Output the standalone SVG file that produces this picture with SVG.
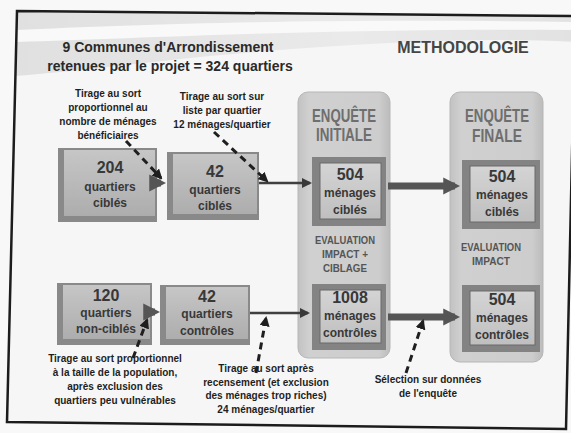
<svg xmlns="http://www.w3.org/2000/svg" width="571" height="433" viewBox="0 0 571 433">
<defs>
<linearGradient id="panelG" x1="0" y1="0" x2="1" y2="0">
<stop offset="0" stop-color="#c2c2c2"/><stop offset="0.12" stop-color="#d0d0d0"/><stop offset="0.88" stop-color="#cdcdcd"/><stop offset="1" stop-color="#bcbcbc"/>
</linearGradient>
<linearGradient id="faceG" x1="0" y1="0" x2="0" y2="1">
<stop offset="0" stop-color="#c6c6c6"/><stop offset="1" stop-color="#adadad"/>
</linearGradient>
<linearGradient id="innerG" x1="0" y1="0" x2="0" y2="1">
<stop offset="0" stop-color="#d4d4d4"/><stop offset="1" stop-color="#bfbfbf"/>
</linearGradient>
<linearGradient id="bandG" x1="0" y1="0" x2="1" y2="0">
<stop offset="0" stop-color="#e0e0e0"/><stop offset="0.6" stop-color="#eaeaea"/><stop offset="1" stop-color="#e2e2e2"/>
</linearGradient>
<marker id="ahThin" viewBox="0 0 10 10" refX="8" refY="5" markerWidth="4" markerHeight="4" orient="auto"><path d="M0,0 L10,5 L0,10 z" fill="#3a3a3a"/></marker>
<marker id="ahThick" viewBox="0 0 10 10" refX="7" refY="5" markerWidth="2.4" markerHeight="2.6" orient="auto"><path d="M0,0 L10,5 L0,10 z" fill="#555"/></marker>
<marker id="ahDash" viewBox="0 0 10 10" refX="8" refY="5" markerWidth="3.4" markerHeight="3.4" orient="auto"><path d="M0,0 L10,5 L0,10 z" fill="#1f1f1f"/></marker>
</defs>
<style>
.t{font-family:"Liberation Sans",Arial,sans-serif;font-weight:bold;text-anchor:middle}
.ann{font-size:10px;fill:#1e1e1e}
.num{font-size:16px;fill:#383838}
.lbl{font-size:12px;fill:#383838}
.ptitle{font-size:18px;fill:#6e6e6e}
.eval{font-size:11px;fill:#555}
.edge{fill:#898989}
.face{fill:url(#faceG)}
.frame{fill:#838383}
.inner{fill:url(#innerG);stroke:#6a6a6a;stroke-width:1}
.panel{fill:url(#panelG);stroke:#b6b6b6;stroke-width:1}
.dash{stroke:#1f1f1f;stroke-width:3;stroke-dasharray:7 5;fill:none;marker-end:url(#ahDash)}
.thin{stroke:#3f3f3f;stroke-width:2.5;fill:none;marker-end:url(#ahThin)}
.thick{stroke:#555;stroke-width:7;fill:none;marker-end:url(#ahThick)}
</style>

<g id="background">
<rect x="0" y="0" width="571" height="433" fill="#f8f8f8"/>
<polygon points="17,11 575,16 566,429 7,422" fill="#f6f6f6"/>
<path d="M17,11 L575,16 L575,42 C470,36 340,44 210,56 C130,64 70,72 15,76 Z" fill="url(#bandG)"/>
<path d="M16,30 C140,24 330,18 575,22 L575,30 C340,28 150,38 16,42 Z" fill="#f9f9f9"/>
<polygon points="17,11 575,16 566,429 7,422" fill="none" stroke="#1c1c1c" stroke-width="2.5"/>
</g>

<g id="title">
<text class="t" x="168" y="52" font-size="14px" fill="#2a2a2a">9 Communes d'Arrondissement</text>
<text class="t" x="170" y="71" font-size="14px" fill="#2a2a2a">retenues par le projet = 324 quartiers</text>
</g>
<g id="methodologie">
<text class="t" x="463" y="53" font-size="16px" fill="#454545">METHODOLOGIE</text>
</g>

<g id="note-tirage-proportionnel">
<text class="t ann" x="108" y="97">Tirage au sort</text>
<text class="t ann" x="108" y="111">proportionnel au</text>
<text class="t ann" x="108" y="125">nombre de ménages</text>
<text class="t ann" x="108" y="139">bénéficiaires</text>
</g>
<g id="note-tirage-liste">
<text class="t ann" x="222" y="100">Tirage au sort sur</text>
<text class="t ann" x="222" y="114">liste par quartier</text>
<text class="t ann" x="222" y="128">12 ménages/quartier</text>
</g>

<g id="panel-initiale">
<rect class="panel" x="298" y="92" width="92" height="266" rx="10"/>
<text class="t ptitle" x="344" y="122" textLength="64" lengthAdjust="spacingAndGlyphs">ENQUÊTE</text>
<text class="t ptitle" x="344" y="141" textLength="56" lengthAdjust="spacingAndGlyphs">INITIALE</text>
<text class="t eval" x="345" y="244" textLength="60" lengthAdjust="spacingAndGlyphs">EVALUATION</text>
<text class="t eval" x="345" y="258" textLength="46" lengthAdjust="spacingAndGlyphs">IMPACT +</text>
<text class="t eval" x="345" y="272" textLength="44" lengthAdjust="spacingAndGlyphs">CIBLAGE</text>
</g>
<g id="panel-finale">
<rect class="panel" x="450" y="92" width="93" height="270" rx="10"/>
<text class="t ptitle" x="497" y="122" textLength="64" lengthAdjust="spacingAndGlyphs">ENQUÊTE</text>
<text class="t ptitle" x="497" y="142" textLength="50" lengthAdjust="spacingAndGlyphs">FINALE</text>
<text class="t eval" x="491" y="251" textLength="60" lengthAdjust="spacingAndGlyphs">EVALUATION</text>
<text class="t eval" x="491" y="265" textLength="38" lengthAdjust="spacingAndGlyphs">IMPACT</text>
</g>

<g id="box-204-cibles">
<rect class="edge" x="58" y="148" width="99" height="74"/>
<rect class="face" x="64" y="150" width="91" height="66"/>
<text class="t num" x="110" y="173">204</text>
<text class="t lbl" x="110" y="191">quartiers</text>
<text class="t lbl" x="110" y="207">ciblés</text>
</g>
<g id="box-42-cibles">
<rect class="edge" x="167" y="152" width="92" height="68"/>
<rect class="face" x="173" y="154" width="84" height="60"/>
<text class="t num" x="215" y="177">42</text>
<text class="t lbl" x="215" y="194">quartiers</text>
<text class="t lbl" x="215" y="210">ciblés</text>
</g>
<g id="box-120-non-cibles">
<rect class="edge" x="57" y="283" width="95" height="62"/>
<rect class="face" x="63" y="285" width="87" height="54"/>
<text class="t num" x="106" y="301">120</text>
<text class="t lbl" x="106" y="317">quartiers</text>
<text class="t lbl" x="106" y="333">non-ciblés</text>
</g>
<g id="box-42-controles">
<rect class="edge" x="160" y="285" width="90" height="60"/>
<rect class="face" x="166" y="287" width="82" height="52"/>
<text class="t num" x="207" y="302">42</text>
<text class="t lbl" x="207" y="318">quartiers</text>
<text class="t lbl" x="207" y="335">contrôles</text>
</g>

<g id="box-504-cibles-initiale">
<rect class="frame" x="312" y="157" width="74" height="69"/>
<rect class="inner" x="320" y="163" width="61" height="56"/>
<text class="t num" x="350" y="180">504</text>
<text class="t lbl" x="350" y="197">ménages</text>
<text class="t lbl" x="350" y="214">ciblés</text>
</g>
<g id="box-1008-controles">
<rect class="frame" x="312" y="284" width="74" height="66"/>
<rect class="inner" x="320" y="290" width="61" height="53"/>
<text class="t num" x="350" y="303">1008</text>
<text class="t lbl" x="350" y="320">ménages</text>
<text class="t lbl" x="350" y="337">contrôles</text>
</g>
<g id="box-504-cibles-finale">
<rect class="frame" x="462" y="160" width="78" height="69"/>
<rect class="inner" x="470" y="166" width="65" height="56"/>
<text class="t num" x="502" y="182">504</text>
<text class="t lbl" x="502" y="199">ménages</text>
<text class="t lbl" x="502" y="216">ciblés</text>
</g>
<g id="box-504-controles-finale">
<rect class="frame" x="462" y="285" width="78" height="67"/>
<rect class="inner" x="470" y="291" width="65" height="54"/>
<text class="t num" x="502" y="305">504</text>
<text class="t lbl" x="502" y="322">ménages</text>
<text class="t lbl" x="502" y="339">contrôles</text>
</g>

<g id="note-tirage-population">
<text class="t ann" x="115" y="362">Tirage au sort proportionnel</text>
<text class="t ann" x="115" y="376">à la taille de la population,</text>
<text class="t ann" x="115" y="390">après exclusion des</text>
<text class="t ann" x="115" y="404">quartiers peu vulnérables</text>
</g>
<g id="note-tirage-recensement">
<text class="t ann" x="266" y="372">Tirage au sort après</text>
<text class="t ann" x="266" y="386">recensement (et exclusion</text>
<text class="t ann" x="266" y="399">des ménages trop riches)</text>
<text class="t ann" x="266" y="413">24 ménages/quartier</text>
</g>
<g id="note-selection">
<text class="t ann" x="428" y="383">Sélection sur données</text>
<text class="t ann" x="428" y="397">de l'enquête</text>
</g>

<g id="connectors">
<line class="thick" x1="152" y1="183" x2="161" y2="183"/>
<line class="thick" x1="150" y1="312" x2="155" y2="312"/>
<line class="thin" x1="259" y1="183" x2="310" y2="183"/>
<line class="thin" x1="250" y1="313" x2="308" y2="313"/>
<line class="thick" x1="388" y1="186" x2="455" y2="186"/>
<line class="thick" x1="388" y1="317" x2="455" y2="317"/>
<line class="dash" x1="126" y1="141" x2="161" y2="178"/>
<line class="dash" x1="214" y1="132" x2="267" y2="181"/>
<line class="dash" x1="133" y1="358" x2="147" y2="320"/>
<line class="dash" x1="256" y1="373" x2="266" y2="318"/>
<line class="dash" x1="406" y1="373" x2="423" y2="321"/>
</g>
</svg>
